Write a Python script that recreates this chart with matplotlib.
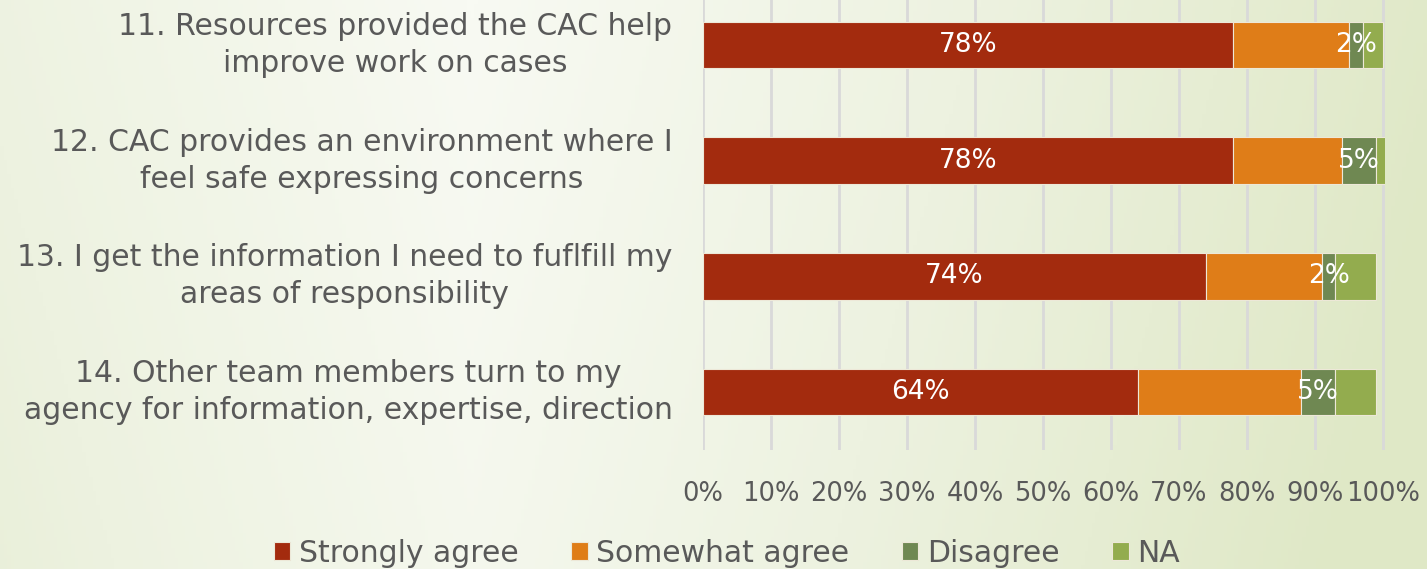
import numpy as np
import matplotlib
matplotlib.use("Agg")
import matplotlib.pyplot as plt
from matplotlib.colors import LinearSegmentedColormap

plt.rcParams['font.family'] = ['DejaVu Sans']

categories = [
    "11. Resources provided the CAC help\nimprove work on cases",
    "12. CAC provides an environment where I\nfeel safe expressing concerns",
    "13. I get the information I need to fuflfill my\nareas of responsibility",
    "14. Other team members turn to my\nagency for information, expertise, direction",
]
strongly_agree = [78, 78, 74, 64]
somewhat_agree = [17, 16, 17, 24]
disagree = [2, 5, 2, 5]
na = [3, 1.4, 6, 6]

series_names = ["Strongly agree", "Somewhat agree", "Disagree", "NA"]
series_colors = ["#A32B0E", "#DF7D18", "#6F8852", "#93AC4E"]
labelled = {0: strongly_agree, 2: disagree}

xticks = [0, 10, 20, 30, 40, 50, 60, 70, 80, 90, 100]
xtick_labels = [f"{t}%" for t in xticks]

W, H = 1427, 569
fig = plt.figure(figsize=(W / 100, H / 100), dpi=100)

# soft green background wash
bg = fig.add_axes([0, 0, 1, 1], zorder=-10)
xx, yy = np.meshgrid(np.linspace(0, 1, 400), np.linspace(0, 1, 160))
d = np.clip(np.abs(xx - 0.33) * 1.4 + (1 - yy) * 0.15, 0, 1)
cmap = LinearSegmentedColormap.from_list("wash", ["#F8FAF3", "#EDF2E0", "#DFE8C6"])
bg.imshow(d, cmap=cmap, aspect="auto", extent=[0, 1, 0, 1], origin="lower")
bg.axis("off")

text_color = "#595959"

ax = fig.add_axes([703 / W, 119 / H, 682 / W, 463 / H])
ax.patch.set_alpha(0)
y = np.arange(len(categories))
left = np.zeros(len(categories))
data = [strongly_agree, somewhat_agree, disagree, na]
for i, (vals, col, name) in enumerate(zip(data, series_colors, series_names)):
    vals = np.array(vals, dtype=float)
    bars = ax.barh(y, vals, left=left, height=0.4, color=col, label=name,
                   edgecolor="#EDE8D8", linewidth=0.8, zorder=3)
    if i in labelled:
        for b, v in zip(bars, labelled[i]):
            ax.text(b.get_x() + b.get_width() / 2, b.get_y() + b.get_height() / 2,
                    f"{v:g}%", ha="center", va="center", color="white",
                    fontsize=19, zorder=5)
    left += vals

ax.set_xlim(0, 100.3)
ax.set_ylim(len(categories) - 0.5, -0.5)
ax.set_xticks(xticks)
ax.set_xticklabels(xtick_labels, fontsize=18.5, color=text_color)
ax.tick_params(axis="x", length=0, pad=22)
ax.set_yticks(y)
ax.set_yticklabels(categories, fontsize=21.5, color=text_color,
                   multialignment="center", linespacing=1.35, va="center")
ax.tick_params(axis="y", length=0, pad=22)
ax.grid(axis="x", color="#D9D9D9", linewidth=2, zorder=0)
for s in ax.spines.values():
    s.set_visible(False)

handles, labels = ax.get_legend_handles_labels()
fig.legend(handles, labels, loc="center", bbox_to_anchor=(727 / W, 1 - 553 / H),
           ncol=4, frameon=False, fontsize=21.5, labelcolor=text_color,
           handlelength=0.55, handleheight=0.55, handletextpad=0.3, columnspacing=1.75)

fig.savefig("out.png", dpi=100)
